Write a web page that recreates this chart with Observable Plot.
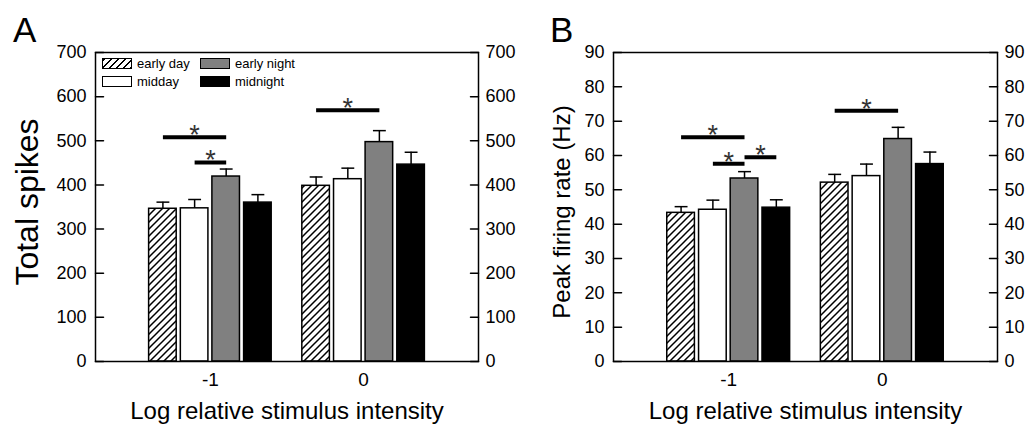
<!DOCTYPE html>
<html>
<head>
<meta charset="utf-8">
<script src="https://cdn.jsdelivr.net/npm/d3@7"></script>
<script src="https://cdn.jsdelivr.net/npm/@observablehq/plot@0.6"></script>
<style>
  html, body { margin: 0; padding: 0; background: white; }
  #wrap { position: relative; width: 1032px; height: 432px; overflow: hidden; font-family: "Liberation Sans", Arial, sans-serif; }
  #wrap svg { position: absolute; top: 0; }
  .panel { position: absolute; font-size: 35px; line-height: 35px; }
  .lg { position: absolute; font-size: 13px; line-height: 13px; white-space: nowrap; }
  .sw { position: absolute; width: 30px; height: 11px; box-sizing: border-box; border: 1.5px solid black; }
</style>
</head>
<body>
<div id="wrap"></div>
<script>
// ---- data ----
const groups = [-1, 0];
const series = ["early day", "midday", "early night", "midnight"];
const spikesMean = [[346, 347, 419, 360], [398, 413, 497, 446]];
const spikesSem  = [[15, 20, 17, 18], [20, 25, 26, 28]];
const rateMean = [[43.3, 44.2, 53.3, 44.8], [52.1, 54.0, 64.8, 57.5]];
const rateSem  = [[1.8, 2.8, 2.0, 2.3], [2.4, 3.5, 3.4, 3.5]];
// significance bars: [group, fromSeries, toSeries, y]
const sigA = [[-1, 0, 2, 508], [-1, 1, 2, 451], [0, 0, 2, 569]];
const sigB = [[-1, 0, 2, 65.3], [-1, 1, 2, 57.6], [-1, 2, 3, 59.5], [0, 0, 2, 73.0]];
const yTicksA = [0, 100, 200, 300, 400, 500, 600, 700];
const yTicksB = [0, 10, 20, 30, 40, 50, 60, 70, 80, 90];
const xTicks = [-1, 0];

// ---- layout ----
const offsets = [-0.31, -0.103, 0.103, 0.31];
const halfW = 0.09;
const capHalf = 0.042;
const FONT = '"Liberation Sans", Arial, sans-serif';
const tickShape = {draw(context, l) { context.moveTo(0, 0); context.lineTo(0, -l); }};

function rows(means, sems) {
  const out = [];
  groups.forEach((g, gi) => series.forEach((s, si) => out.push({
    group: g, series: s, si, x: g + offsets[si], mean: means[gi][si], top: means[gi][si] + sems[gi][si]
  })));
  return out;
}

function panel({means, sems, sig, yTicks, yMax, ylabel, ylabelSize, ylabelDx, ylabelDy, width, ml, mr, hatchId}) {
  const data = rows(means, sems);
  const sigRows = sig.map(([g, a, b, y]) => ({x1: g + offsets[a], x2: g + offsets[b], y}));
  const fills = [`url(#${hatchId})`, "white", "#808080", "black"];
  const marks = [];
  series.forEach((s, si) => {
    marks.push(Plot.rectY(data.filter(d => d.si === si), {
      x1: d => d.x - halfW, x2: d => d.x + halfW, y1: 0, y2: "mean",
      fill: fills[si], stroke: "black", strokeWidth: 1.5
    }));
  });
  marks.push(
    Plot.ruleX(data, {x: "x", y1: "mean", y2: "top", stroke: "black", strokeWidth: 1.5}),
    Plot.link(data, {x1: d => d.x - capHalf, x2: d => d.x + capHalf, y1: "top", y2: "top", stroke: "black", strokeWidth: 1.5}),
    Plot.link(sigRows, {x1: "x1", x2: "x2", y1: "y", y2: "y", stroke: "black", strokeWidth: 4}),
    Plot.text(sigRows, {x: d => (d.x1 + d.x2) / 2, y: "y", text: () => "*", fontSize: 27, lineAnchor: "bottom", dy: 7, fill: "#333"}),
    Plot.frame({stroke: "black", strokeWidth: 1.5}),
    Plot.vector(yTicks, {y: d => d, frameAnchor: "left", length: 8, rotate: 90, anchor: "start", shape: tickShape, stroke: "black", strokeWidth: 1.5}),
    Plot.vector(yTicks, {y: d => d, frameAnchor: "right", length: 8, rotate: -90, anchor: "start", shape: tickShape, stroke: "black", strokeWidth: 1.5}),
    Plot.axisY({anchor: "left", ticks: yTicks, tickSize: 0, tickPadding: 9, label: null, fontSize: 18}),
    Plot.axisY({anchor: "right", ticks: yTicks, tickSize: 0, tickPadding: 7, label: null, fontSize: 18}),
    Plot.axisX({ticks: xTicks, tickSize: 0, tickPadding: 11, label: null, fontSize: 19, tickFormat: d => String(d)}),
    Plot.text([ylabel], {frameAnchor: "left", textAnchor: "middle", text: d => d, rotate: -90, fontSize: ylabelSize, dx: ylabelDx, dy: ylabelDy}),
    Plot.text(["Log relative stimulus intensity"], {frameAnchor: "bottom", textAnchor: "middle", text: d => d, fontSize: 24, dy: 57})
  );
  const svg = Plot.plot({
    width, height: 432,
    marginTop: 52, marginBottom: 71, marginLeft: ml, marginRight: mr,
    x: {domain: [-1.75, 0.75]},
    y: {domain: [0, yMax]},
    style: {fontFamily: FONT, fontSize: "18px", background: "white", color: "black", overflow: "visible"},
    marks
  });
  const ns = "http://www.w3.org/2000/svg";
  const defs = document.createElementNS(ns, "defs");
  defs.innerHTML = `<pattern id="${hatchId}" patternUnits="userSpaceOnUse" width="7" height="7">
      <rect width="7" height="7" fill="white"/>
      <path d="M0,7 L7,0 M-1,1 L1,-1 M6,8 L8,6" stroke="black" stroke-width="1.5"/>
    </pattern>`;
  svg.insertBefore(defs, svg.firstChild);
  return svg;
}

const wrap = document.getElementById("wrap");
const svgA = panel({means: spikesMean, sems: spikesSem, sig: sigA, yTicks: yTicksA, yMax: 700,
  ylabel: "Total spikes", ylabelSize: 32, ylabelDx: -68, ylabelDy: -5, width: 520, ml: 95, mr: 42, hatchId: "hatchA"});
svgA.style.left = "0px";
const svgB = panel({means: rateMean, sems: rateSem, sig: sigB, yTicks: yTicksB, yMax: 90,
  ylabel: "Peak firing rate (Hz)", ylabelSize: 24, ylabelDx: -51, ylabelDy: 5, width: 512, ml: 93, mr: 35, hatchId: "hatchB"});
svgB.style.left = "520px";
wrap.appendChild(svgA);
wrap.appendChild(svgB);

// panel letters
[["A", 13], ["B", 550]].forEach(([t, x]) => {
  const d = document.createElement("div");
  d.className = "panel"; d.textContent = t;
  d.style.left = x + "px"; d.style.top = "12px";
  wrap.appendChild(d);
});

// legend
const legendItems = [
  {name: series[0], x: 102, y: 58, bg: "repeating-linear-gradient(135deg, black 0 1.5px, white 1.5px 5px)"},
  {name: series[1], x: 102, y: 76, bg: "white"},
  {name: series[2], x: 200, y: 58, bg: "#808080"},
  {name: series[3], x: 200, y: 76, bg: "black"}
];
legendItems.forEach(it => {
  const sw = document.createElement("div");
  sw.className = "sw"; sw.style.left = it.x + "px"; sw.style.top = it.y + "px"; sw.style.background = it.bg;
  wrap.appendChild(sw);
  const t = document.createElement("div");
  t.className = "lg"; t.textContent = it.name;
  t.style.left = (it.x + 35) + "px"; t.style.top = (it.y - 1) + "px";
  wrap.appendChild(t);
});
</script>
</body>
</html>
